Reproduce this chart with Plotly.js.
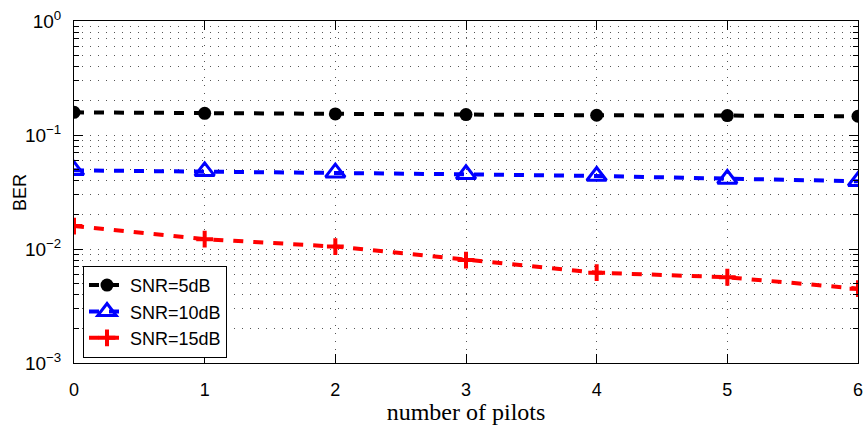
<!DOCTYPE html>
<html>
<head>
<meta charset="utf-8">
<script src="https://cdn.plot.ly/plotly-3.0.1.min.js"></script>
<style>html,body{margin:0;padding:0;background:#fff;}#chart{width:866px;height:425px;}</style>
</head>
<body>
<div id="chart"></div>
<script>
const pilots = [0, 1, 2, 3, 4, 5, 6];
const ber5dB  = [0.158, 0.155, 0.153, 0.151, 0.149, 0.148, 0.146];
const ber10dB = [0.049, 0.048, 0.0467, 0.0452, 0.0437, 0.0411, 0.0393];
const ber15dB = [0.0159, 0.0122, 0.0105, 0.0080, 0.0062, 0.00565, 0.00449];
const seriesNames = ['SNR=5dB', 'SNR=10dB', 'SNR=15dB'];
const yTickVals = [0.001, 0.01, 0.1, 1];
const yTickText = ['10<sup>\u22123</sup>', '10<sup>\u22122</sup>', '10<sup>\u22121</sup>', '10<sup>0</sup>'];
const yMinorVals = [];
[0.001, 0.01, 0.1].forEach(d => { for (let k = 2; k <= 9; k++) yMinorVals.push(d * k); });
const xTickVals = [0, 1, 2, 3, 4, 5, 6];

const traces = [
  {x: pilots, y: ber5dB, name: seriesNames[0], mode: 'lines+markers',
   line: {color: '#000000', width: 4, dash: '10px,10px'},
   marker: {symbol: 'circle', size: 13, color: '#000000'}},
  {x: pilots, y: ber10dB, name: seriesNames[1], mode: 'lines+markers',
   line: {color: '#0000ff', width: 4, dash: '10px,10px'},
   marker: {symbol: 'triangle-up-open', size: 17, color: '#0000ff', line: {width: 3, color: '#0000ff'}}},
  {x: pilots, y: ber15dB, name: seriesNames[2], mode: 'lines+markers',
   line: {color: '#ff0000', width: 4, dash: '10px,10px'},
   marker: {symbol: 'cross-thin-open', size: 12, color: '#ff0000', line: {width: 4, color: '#ff0000'}}}
];

const layout = {
  width: 866, height: 425,
  margin: {l: 74, r: 8, t: 21, b: 62},
  paper_bgcolor: '#ffffff', plot_bgcolor: '#ffffff',
  font: {family: 'Liberation Sans, Arial, sans-serif', color: '#000000', size: 16},
  showlegend: true,
  legend: {x: 0.0115, y: 0.284, xanchor: 'left', yanchor: 'top',
    bgcolor: '#ffffff', bordercolor: '#000000', borderwidth: 1,
    itemwidth: 36,
    font: {size: 18, family: 'Liberation Sans, Arial, sans-serif'}},
  xaxis: {
    range: [0, 6], tickmode: 'array', tickvals: xTickVals,
    showline: true, linecolor: '#000000', linewidth: 1, mirror: 'ticks',
    ticks: 'inside', ticklen: 9, tickcolor: '#000000',
    showgrid: true, gridcolor: '#555555', gridwidth: 1, griddash: '1px,7px',
    zeroline: false, ticklabelstandoff: 10,
    tickfont: {size: 18},
    title: {text: 'number of pilots', font: {family: 'Liberation Serif, Times New Roman, serif', size: 24}, standoff: 6}
  },
  yaxis: {
    type: 'log', range: [-3, 0], tickmode: 'array', tickvals: yTickVals, ticktext: yTickText,
    showline: true, linecolor: '#000000', linewidth: 1, mirror: 'ticks',
    ticks: 'inside', ticklen: 9, tickcolor: '#000000',
    showgrid: true, gridcolor: '#555555', gridwidth: 1, griddash: '1px,7px',
    zeroline: false, ticklabelstandoff: 8,
    tickfont: {size: 19},
    minor: {tickmode: 'array', tickvals: yMinorVals, ticks: 'inside', ticklen: 5, tickcolor: '#000000',
      showgrid: true, gridcolor: '#555555', gridwidth: 1, griddash: '1px,7px'}
  },
  annotations: [{
    text: 'BER', xref: 'paper', yref: 'paper', x: -0.069, y: 0.5,
    xanchor: 'center', yanchor: 'middle', textangle: -90, showarrow: false,
    font: {size: 18, family: 'Liberation Sans, Arial, sans-serif', color: '#000000'}
  }]
};

Plotly.newPlot('chart', traces, layout, {displayModeBar: false, staticPlot: true});
</script>
</body>
</html>
